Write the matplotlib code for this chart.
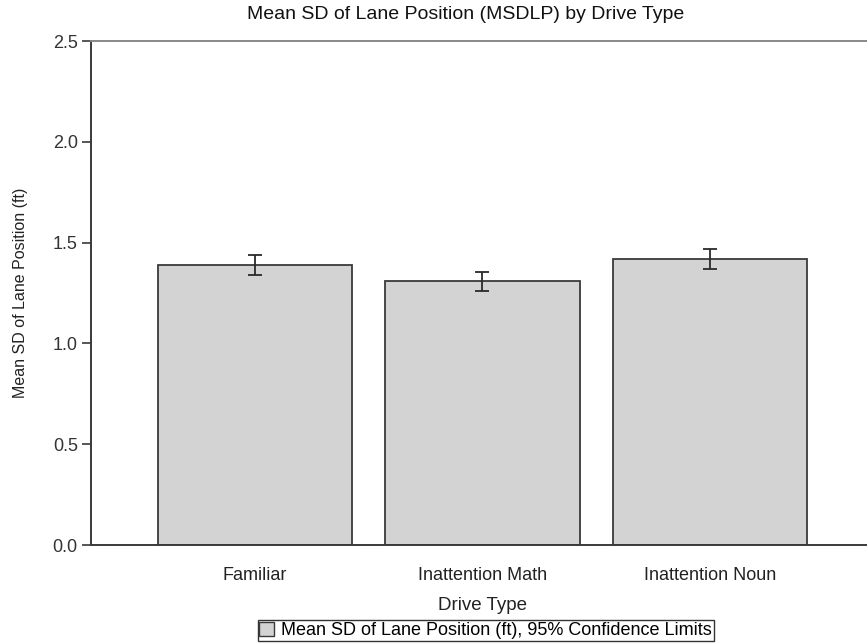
import matplotlib.pyplot as plt
from matplotlib.patches import Patch

# Dados
drive_types = ["Familiar", "Inattention Math", "Inattention Noun"]
msdlp_mean = [1.39, 1.31, 1.42]
ci_lower = [1.34, 1.26, 1.37]
ci_upper = [1.44, 1.355, 1.47]

plt.rcParams['font.family'] = ['Liberation Sans', 'DejaVu Sans']

fig = plt.figure(figsize=(8.67, 6.44), dpi=100)
ax = fig.add_axes([0.105, 0.1537, 0.903, 0.7826])

xpos = list(range(len(drive_types)))
err_lo = [m - l for m, l in zip(msdlp_mean, ci_lower)]
err_hi = [u - m for m, u in zip(msdlp_mean, ci_upper)]

ax.bar(xpos, msdlp_mean, width=0.855, color="#d3d3d3", edgecolor="#3a3a3a", linewidth=1.3, zorder=2)
ax.errorbar(xpos, msdlp_mean, yerr=[err_lo, err_hi], fmt="none", ecolor="#2a2a2a",
            elinewidth=1.3, capsize=5, capthick=1.3, zorder=3)

ax.set_xlim(-0.72, 2.72)
ax.set_ylim(0, 2.5)
ax.set_yticks([0.0, 0.5, 1.0, 1.5, 2.0, 2.5])
ax.set_yticklabels(["0.0", "0.5", "1.0", "1.5", "2.0", "2.5"])
ax.set_xticks(xpos)
ax.set_xticklabels(drive_types)

ax.tick_params(axis="y", length=6.5, width=1.2, color="#3a3a3a", labelsize=13, labelcolor="#333333", pad=3)
ax.tick_params(axis="x", length=0, labelsize=13, labelcolor="#222222", pad=16)

for s in ["left", "bottom"]:
    ax.spines[s].set_color("#3a3a3a")
    ax.spines[s].set_linewidth(1.4)
ax.spines["top"].set_color("#888888")
ax.spines["top"].set_linewidth(1.4)
ax.spines["right"].set_color("#888888")

ax.set_xlabel("Drive Type", fontsize=13.5, color="#222222", labelpad=9)
ax.set_ylabel("Mean SD of Lane Position (ft)", fontsize=11.5, color="#222222")
ax.yaxis.set_label_coords(-0.08, 0.5)
fig.suptitle("Mean SD of Lane Position (MSDLP) by Drive Type", x=0.537, y=0.99, fontsize=14, color="#111111")

handle = Patch(facecolor="#d3d3d3", edgecolor="#3a3a3a", label="Mean SD of Lane Position (ft), 95% Confidence Limits")
leg = fig.legend(handles=[handle], loc="center", bbox_to_anchor=(0.56, 0.021), fontsize=13,
                 frameon=True, fancybox=False, edgecolor="black", handlelength=0.8, handleheight=0.8,
                 handletextpad=0.4, borderpad=0.1, borderaxespad=0)
leg.get_frame().set_linewidth(1.0)

fig.savefig("out.png", dpi=100)
